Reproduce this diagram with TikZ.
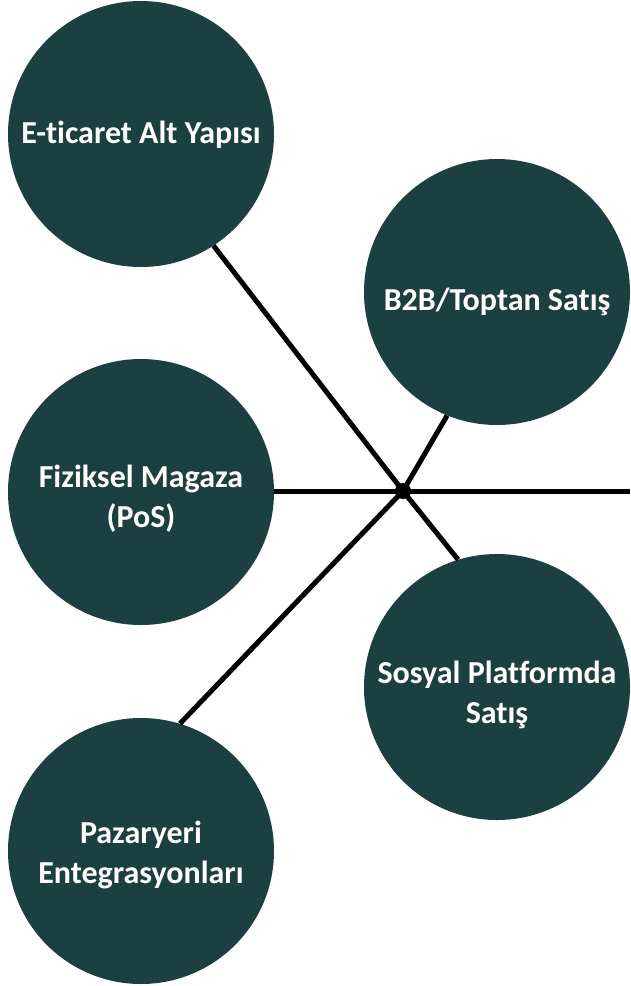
\documentclass[tikz,border=0pt]{standalone}
\usepackage{fontspec}
\setmainfont{Carlito}[Ligatures=NoCommon]
\definecolor{teal}{RGB}{28,64,66}
\begin{document}
\begin{tikzpicture}[x=1pt,y=-1pt,
  bubble/.style={circle,fill=teal,minimum size=266pt,inner sep=0pt},
  caption/.style={text=white,font=\bfseries\fontsize{32}{40}\selectfont,align=center,inner sep=0pt},
  link/.style={line width=5pt,black}]
\useasboundingbox (0,0) rectangle (630,986);
\node[bubble] (eti) at (141,134) {};
\node[bubble] (b2b) at (497,292) {};
\node[bubble] (fiz) at (141,492) {};
\node[bubble] (sos) at (497,687) {};
\node[bubble] (paz) at (141,851) {};
\node[caption] (etit) at ([yshift=-1pt]eti.center) {E-ticaret Alt Yapısı};
\node[caption] (b2bt) at ([yshift=-10pt]b2b.center) {B2B/Toptan Satış};
\node[caption] (fizt) at ([yshift=-7pt]fiz.center) {Fiziksel Magaza\\(PoS)};
\node[caption] (sost) at ([yshift=-8pt]sos.center) {Sosyal Platformda\\Satış};
\node[caption] (pazt) at ([yshift=-4pt]paz.center) {Pazaryeri\\Entegrasyonları};
\coordinate (hub) at (403,491);
\coordinate (east) at (630,491);
\draw[link] (hub) -- (eti.303);
\draw[link] (hub) -- (b2b.248);
\draw[link] (hub) -- (sos.107);
\draw[link] (hub) -- (paz.73);
\draw[link] (fiz.east |- hub) -- (east);
\fill[black] (hub) circle (8pt);
\end{tikzpicture}
\end{document}
